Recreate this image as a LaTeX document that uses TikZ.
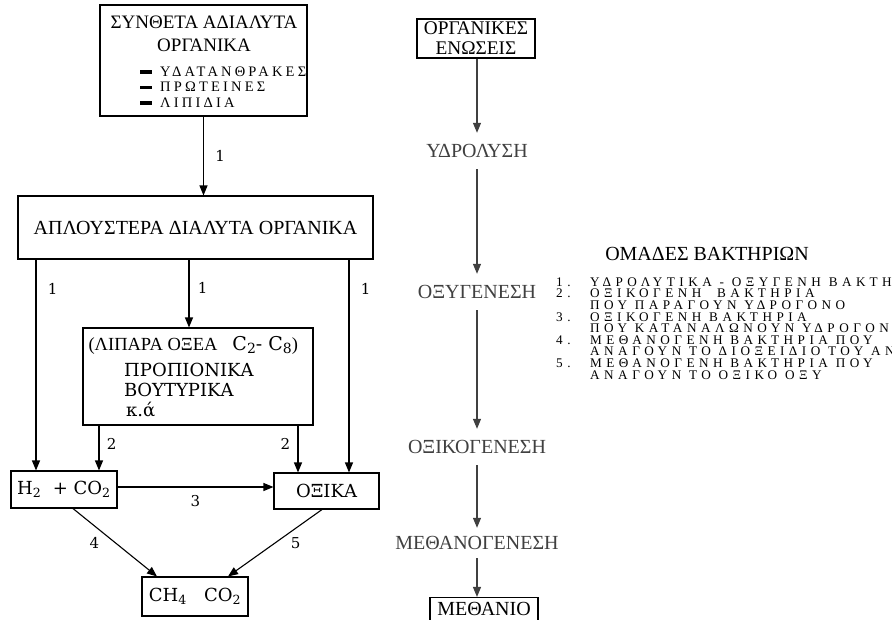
\documentclass[tikz,border=0pt]{standalone}
\usepackage{fontspec}
\setmainfont{Liberation Serif}
\newfontfamily\dvs{DejaVu Serif}
\newfontfamily\spaced[LetterSpace=34]{Liberation Serif}
\newfontfamily\spacedtop[LetterSpace=22]{Liberation Serif}
\usetikzlibrary{arrows.meta, positioning, calc}

\begin{document}
\begin{tikzpicture}[
  x=1pt, y=-1pt,
  >={Triangle[length=10pt,width=8pt]},
  box/.style={rectangle, draw=black, line width=1.1pt, inner sep=0pt},
  big/.style={font=\fontsize{20}{23}\selectfont},
  small/.style={font=\dvs\fontsize{18}{20}\selectfont},
  lbl/.style={font=\dvs\fontsize{15}{15}\selectfont},
  item/.style={anchor=west, inner sep=0pt, text height=8.5pt, text depth=0pt,
    font=\spaced\fontsize{13.2}{13}\selectfont},
  stage/.style={font=\fontsize{20}{20}\selectfont, text=black!75, minimum height=36pt},
  flow/.style={->, line width=1.1pt},
  gflow/.style={->, line width=1.1pt, black!75}
]
  \useasboundingbox (0,0) rectangle (892,619);
  \clip (0,0) rectangle (892,619);

  % left diagram: boxes
  \node[box, minimum width=207pt, minimum height=111pt] (complex) at (203.5,60.5) {};
  \node[font=\fontsize{19}{23}\selectfont, align=center] (complext) at (204,34) {ΣΥΝΘΕΤΑ ΑΔΙΑΛΥΤΑ\\ΟΡΓΑΝΙΚΑ};
  \foreach \t [count=\i] in {ΥΔΑΤΑΝΘΡΑΚΕΣ, ΠΡΩΤΕΙΝΕΣ, ΛΙΠΙΔΙΑ} {
    \draw[line width=3.5pt] (140,56.5+15.5*\i) -- (152,56.5+15.5*\i);
    \node[item, font=\spacedtop\fontsize{14.5}{15}\selectfont] (c\i) at (160,56.5+15.5*\i) {\t};
  }

  \node[box, minimum width=355pt, minimum height=63pt, big] (simple) at (195.5,227.5)
    {ΑΠΛΟΥΣΤΕΡΑ ΔΙΑΛΥΤΑ ΟΡΓΑΝΙΚΑ};

  \node[box, minimum width=230pt, minimum height=97pt] (fatty) at (198,376.5) {};
  \node[anchor=west, font=\fontsize{18.5}{18}\selectfont] (fattyt) at (85,345)
    {(ΛΙΠΑΡΑ ΟΞΕΑ\hspace{15pt}{\dvs\fontsize{19}{18}\selectfont C\raisebox{-3.5pt}{\fontsize{14}{14}\selectfont 2}-
      C\raisebox{-3.5pt}{\fontsize{14}{14}\selectfont 8}})};
  \node[small, anchor=west, align=left, inner sep=0pt] (acids) at (124,380) {ΠΡΟΠΙΟΝΙΚΑ\\ΒΟΥΤΥΡΙΚΑ};
  \node[small, anchor=west, inner sep=0pt] (etc) at (126,410) {κ.ά};

  \node[box, minimum width=106pt, minimum height=37pt, small] (h2) at (64,489.5)
    {H\textsubscript{2}\ \ +\ CO\textsubscript{2}};
  \node[box, minimum width=105pt, minimum height=36pt, small] (acetic) at (326.5,491) {ΟΞΙΚΑ};
  \node[box, minimum width=106pt, minimum height=39pt, small] (ch4) at (195,596.5)
    {CH\textsubscript{4}\ \ \ CO\textsubscript{2}};

  % left diagram: connectors
  \draw[flow] (complex.south) -- (complex.south |- simple.north)
    node[lbl, midway, right=8pt] {1};
  \draw[flow] ([xshift=-28pt]h2.north |- simple.south) -- ([xshift=-28pt]h2.north)
    node[lbl, pos=0.14, right=8pt] {1};
  \draw[flow] ([xshift=-9pt]fatty.north |- simple.south) -- ([xshift=-9pt]fatty.north)
    node[lbl, pos=0.42, right=5pt] {1};
  \draw[flow] ([xshift=22.5pt]acetic.north |- simple.south) -- ([xshift=22.5pt]acetic.north)
    node[lbl, pos=0.14, right=8pt] {1};
  \draw[flow] ([xshift=35pt]h2.north |- fatty.south) -- ([xshift=35pt]h2.north)
    node[lbl, pos=0.4, right=4pt] {2};
  \draw[flow] ([xshift=-28.5pt]acetic.north |- fatty.south) -- ([xshift=-28.5pt]acetic.north)
    node[lbl, pos=0.4, left=4pt] {2};
  \draw[flow] ([yshift=2.5pt]h2.east) -- ([yshift=2.5pt]h2.east -| acetic.west)
    node[lbl, midway, below=4pt] {3};
  \draw[flow] ([xshift=9pt]h2.south) -- ([xshift=-38pt]ch4.north)
    node[lbl, midway, left=12pt] {4};
  \draw[flow] ([xshift=-4.5pt]acetic.south) -- ([xshift=33pt]ch4.north)
    node[lbl, midway, right=12pt] {5};

  % right column: stages
  \node[box, font=\fontsize{19.3}{20}\selectfont, align=center, minimum width=118pt, minimum height=39pt]
    (org) at (476,38.5) {ΟΡΓΑΝΙΚΕΣ\\ΕΝΩΣΕΙΣ};
  \node[stage] (hydro) at (477,151) {ΥΔΡΟΛΥΣΗ};
  \node[stage] (oxy) at (477,292) {ΟΞΥΓΕΝΕΣΗ};
  \node[stage] (aceto) at (477,447) {ΟΞΙΚΟΓΕΝΕΣΗ};
  \node[stage, minimum height=30pt] (methano) at (477,543) {ΜΕΘΑΝΟΓΕΝΕΣΗ};
  \node[box, font=\fontsize{20}{20}\selectfont, minimum width=108pt, minimum height=23pt]
    (methane) at (484,609) {ΜΕΘΑΝΙΟ};

  \draw[gflow] (org.south -| hydro) -- (hydro);
  \draw[gflow] (hydro) -- (oxy);
  \draw[gflow] (oxy) -- (aceto);
  \draw[gflow] (aceto) -- (methano);
  \draw[gflow] (methano) -- (methano |- methane.north);

  % bacteria groups
  \node[font=\fontsize{20}{20}\selectfont] (groups) at (707,254) {ΟΜΑΔΕΣ ΒΑΚΤΗΡΙΩΝ};
  \foreach \t [count=\i] in {ΥΔΡΟΛΥΤΙΚΑ - ΟΞΥΓΕΝΗ ΒΑΚΤΗΡΙΑ, ΟΞΙΚΟΓΕΝΗ\ \ ΒΑΚΤΗΡΙΑ,
      ΠΟΥ ΠΑΡΑΓΟΥΝ ΥΔΡΟΓΟΝΟ, ΟΞΙΚΟΓΕΝΗ ΒΑΚΤΗΡΙΑ, ΠΟΥ ΚΑΤΑΝΑΛΩΝΟΥΝ ΥΔΡΟΓΟΝΟ,
      ΜΕΘΑΝΟΓΕΝΗ ΒΑΚΤΗΡΙΑ ΠΟΥ, ΑΝΑΓΟΥΝ ΤΟ ΔΙΟΞΕΙΔΙΟ ΤΟΥ ΑΝΘΡΑΚΑ,
      ΜΕΘΑΝΟΓΕΝΗ ΒΑΚΤΗΡΙΑ ΠΟΥ, ΑΝΑΓΟΥΝ ΤΟ ΟΞΙΚΟ ΟΞΥ}
    \node[item] (g\i) at (590,270.4+11.6*\i) {\t};
  \foreach \n/\i in {1/1, 2/2, 3/4, 4/6, 5/8}
    \node[item] (n\n) at (556,270.4+11.6*\i) {\n.};
\end{tikzpicture}
\end{document}
